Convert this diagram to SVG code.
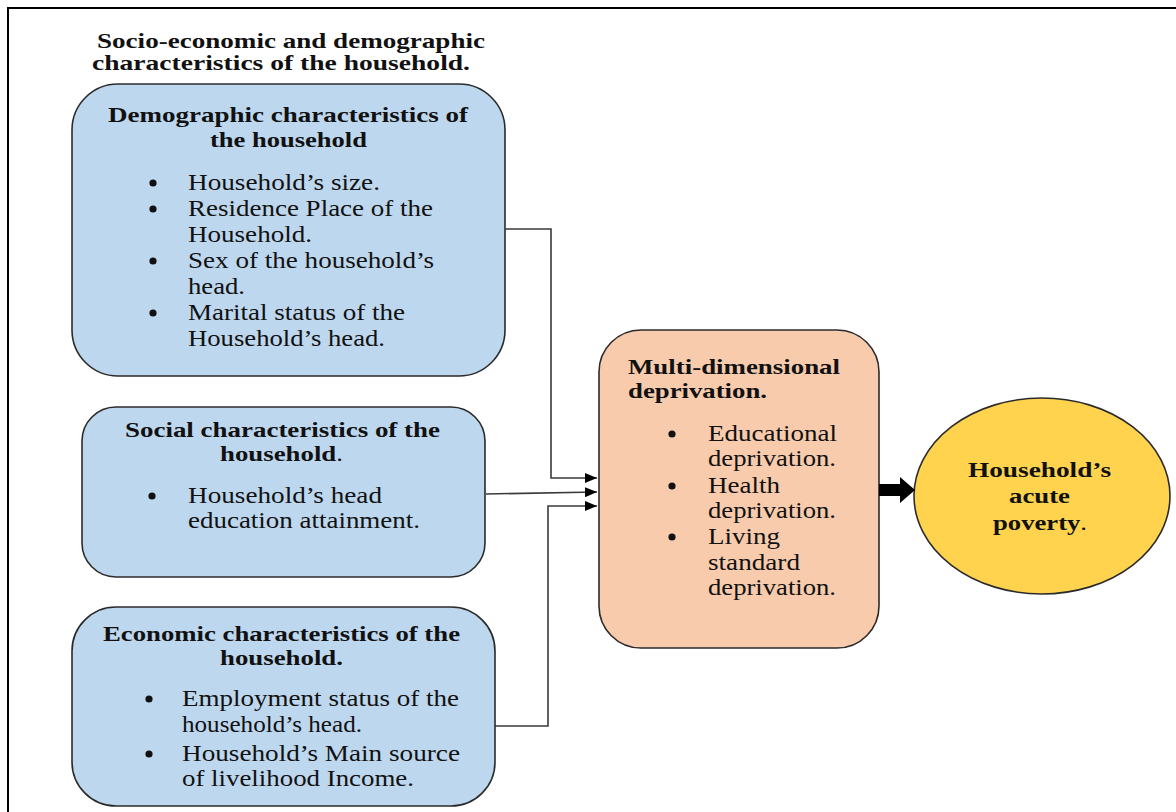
<svg xmlns="http://www.w3.org/2000/svg" width="1176" height="812" viewBox="0 0 1176 812">
<defs>
<style>
.bx{fill:#BDD7EE;stroke:#2b2b2b;stroke-width:1.6}
.pk{fill:#F8CBAD;stroke:#2b2b2b;stroke-width:1.6}
.el{fill:#FFD34E;stroke:#2b2b2b;stroke-width:1.6}
text{font-family:"Liberation Serif","Times New Roman",serif;fill:#111}
.h{font-weight:bold;font-size:22px}
.ti{font-weight:bold;font-size:21px}
.t{font-size:23px}
.d{fill:#111}
.c{fill:none;stroke:#3a3a3a;stroke-width:1.6}
</style>
<marker id="ah" markerWidth="12" markerHeight="10" refX="12" refY="5" orient="auto" markerUnits="userSpaceOnUse">
<path d="M0,0 L12,5 L0,10 Z" fill="#000"/>
</marker>
</defs>
<rect width="1176" height="812" fill="#fff"/>
<path d="M8,812 V8 H1176" fill="none" stroke="#000" stroke-width="2"/>

<g id="title">
<text class="ti" x="97" y="48" textLength="388" lengthAdjust="spacingAndGlyphs">Socio-economic and demographic</text>
<text class="ti" x="92" y="70" textLength="378" lengthAdjust="spacingAndGlyphs">characteristics of the household.</text>
</g>

<g id="demographic">
<rect class="bx" x="72" y="84" width="433" height="292" rx="46" ry="46"/>
<text class="h" x="108" y="122" textLength="360" lengthAdjust="spacingAndGlyphs">Demographic characteristics of</text>
<text class="h" x="210" y="147" textLength="157" lengthAdjust="spacingAndGlyphs">the household</text>
<circle class="d" cx="153" cy="183" r="3.6"/>
<text class="t" x="188" y="190" textLength="192" lengthAdjust="spacingAndGlyphs">Household’s size.</text>
<circle class="d" cx="153" cy="209" r="3.6"/>
<text class="t" x="188" y="216" textLength="245" lengthAdjust="spacingAndGlyphs">Residence Place of the</text>
<text class="t" x="188" y="242" textLength="124" lengthAdjust="spacingAndGlyphs">Household.</text>
<circle class="d" cx="153" cy="261" r="3.6"/>
<text class="t" x="188" y="268" textLength="246" lengthAdjust="spacingAndGlyphs">Sex of the household’s</text>
<text class="t" x="188" y="294" textLength="57" lengthAdjust="spacingAndGlyphs">head.</text>
<circle class="d" cx="153" cy="313" r="3.6"/>
<text class="t" x="188" y="320" textLength="217" lengthAdjust="spacingAndGlyphs">Marital status of the</text>
<text class="t" x="188" y="346" textLength="197" lengthAdjust="spacingAndGlyphs">Household’s head.</text>
</g>

<g id="social">
<rect class="bx" x="82" y="407" width="403" height="170" rx="34" ry="34"/>
<text class="h" x="125" y="437" textLength="315" lengthAdjust="spacingAndGlyphs">Social characteristics of the</text>
<text class="h" x="220" y="461" textLength="123" lengthAdjust="spacingAndGlyphs">household<tspan font-weight="normal">.</tspan></text>
<circle class="d" cx="152" cy="496" r="3.6"/>
<text class="t" x="188" y="503" textLength="194" lengthAdjust="spacingAndGlyphs">Household’s head</text>
<text class="t" x="188" y="528" textLength="232" lengthAdjust="spacingAndGlyphs">education attainment.</text>
</g>

<g id="economic">
<rect class="bx" x="72" y="607" width="423" height="199" rx="44" ry="44"/>
<text class="h" x="103" y="641" textLength="357" lengthAdjust="spacingAndGlyphs">Economic characteristics of the</text>
<text class="h" x="220" y="665" textLength="123" lengthAdjust="spacingAndGlyphs">household.</text>
<circle class="d" cx="149" cy="699" r="3.6"/>
<text class="t" x="182" y="706" textLength="277" lengthAdjust="spacingAndGlyphs">Employment status of the</text>
<text class="t" x="182" y="732" textLength="180" lengthAdjust="spacingAndGlyphs">household’s head.</text>
<circle class="d" cx="149" cy="754" r="3.6"/>
<text class="t" x="182" y="761" textLength="278" lengthAdjust="spacingAndGlyphs">Household’s Main source</text>
<text class="t" x="182" y="786" textLength="232" lengthAdjust="spacingAndGlyphs">of livelihood Income.</text>
</g>

<g id="multidimensional">
<rect class="pk" x="599" y="330" width="280" height="318" rx="42" ry="42"/>
<text class="h" x="628" y="374" textLength="212" lengthAdjust="spacingAndGlyphs">Multi-dimensional</text>
<text class="h" x="628" y="398" textLength="139" lengthAdjust="spacingAndGlyphs">deprivation.</text>
<circle class="d" cx="672" cy="434" r="3.6"/>
<text class="t" x="708" y="441" textLength="129" lengthAdjust="spacingAndGlyphs">Educational</text>
<text class="t" x="708" y="466" textLength="128" lengthAdjust="spacingAndGlyphs">deprivation.</text>
<circle class="d" cx="672" cy="486" r="3.6"/>
<text class="t" x="708" y="493" textLength="72" lengthAdjust="spacingAndGlyphs">Health</text>
<text class="t" x="708" y="518" textLength="128" lengthAdjust="spacingAndGlyphs">deprivation.</text>
<circle class="d" cx="672" cy="537" r="3.6"/>
<text class="t" x="708" y="544" textLength="72" lengthAdjust="spacingAndGlyphs">Living</text>
<text class="t" x="708" y="570" textLength="92" lengthAdjust="spacingAndGlyphs">standard</text>
<text class="t" x="708" y="595" textLength="128" lengthAdjust="spacingAndGlyphs">deprivation.</text>
</g>

<g id="poverty">
<ellipse class="el" cx="1042" cy="496" rx="128" ry="98"/>
<text class="h" x="968" y="477" textLength="143" lengthAdjust="spacingAndGlyphs">Household’s</text>
<text class="h" x="1009" y="503" textLength="61" lengthAdjust="spacingAndGlyphs">acute</text>
<text class="h" x="993" y="530" textLength="94" lengthAdjust="spacingAndGlyphs">poverty<tspan font-weight="normal">.</tspan></text>
</g>

<g id="connectors">
<path class="c" d="M505,229 H551 V478 H597" marker-end="url(#ah)"/>
<path class="c" d="M486,494 L597,492" marker-end="url(#ah)"/>
<path class="c" d="M495,726 H548 V506 H597" marker-end="url(#ah)"/>
<polygon points="879,484 900,484 900,477 915,490 900,503 900,496 879,496" fill="#000"/>
</g>
</svg>
